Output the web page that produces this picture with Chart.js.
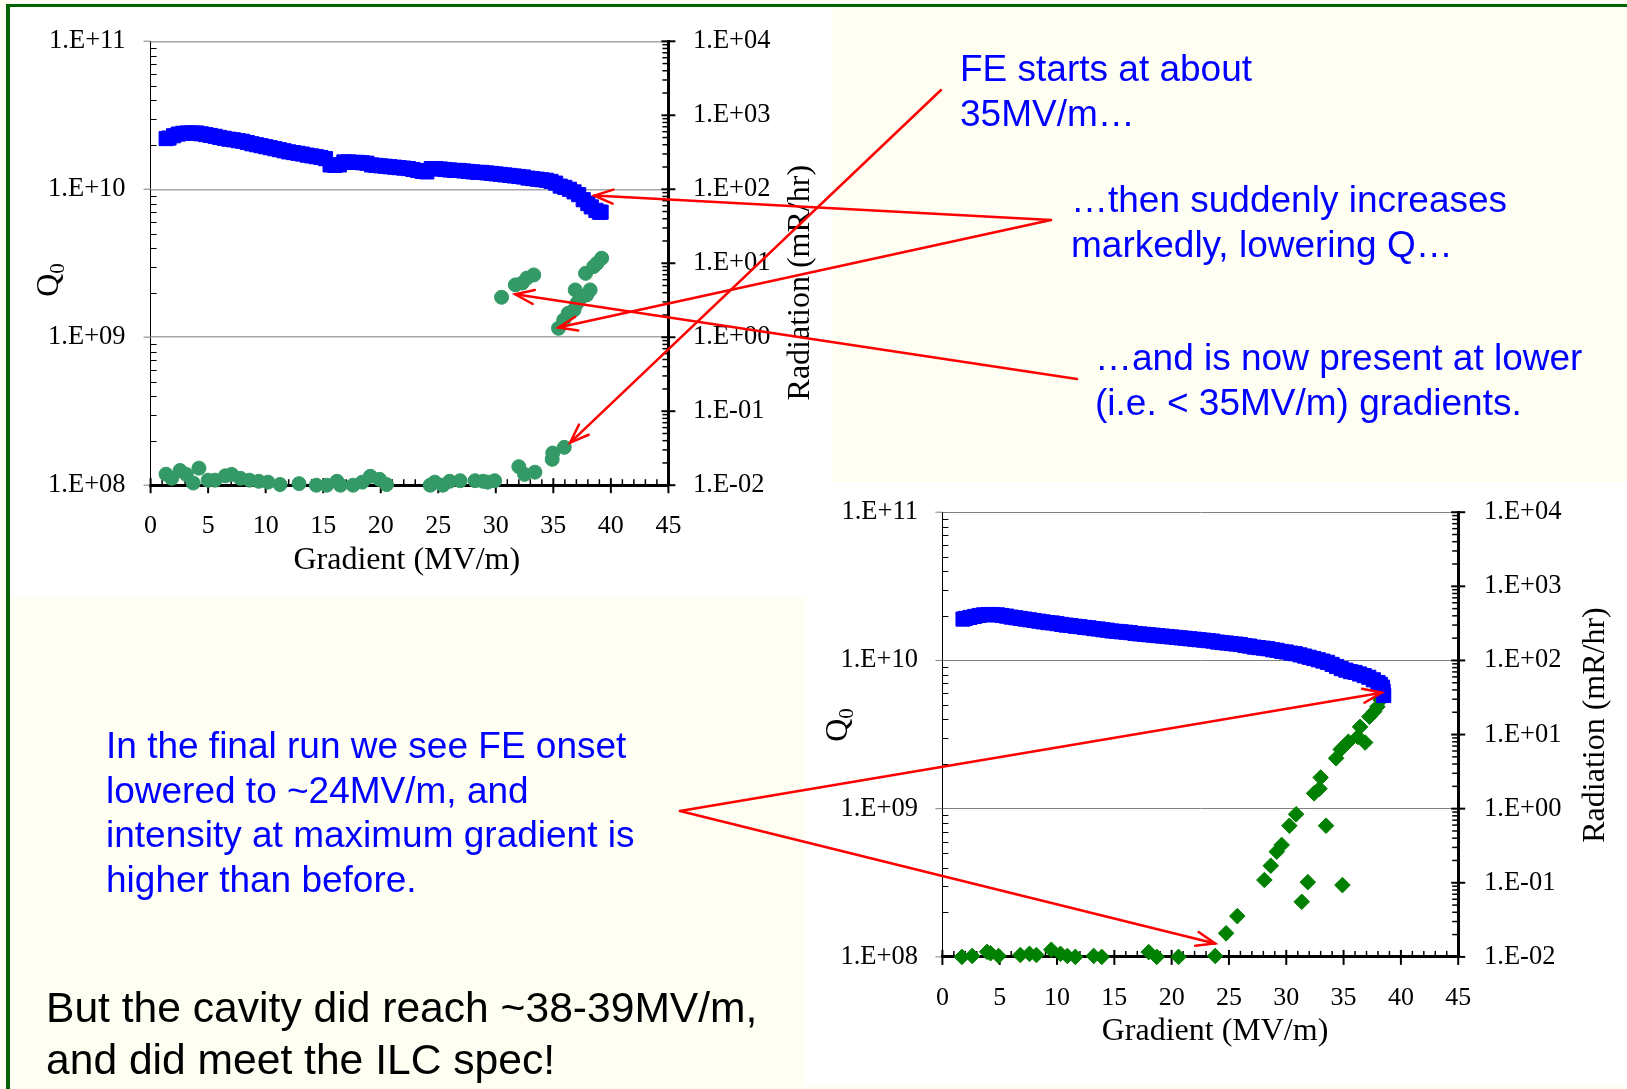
<!DOCTYPE html>
<html>
<head>
<meta charset="utf-8">
<script src="https://cdn.jsdelivr.net/npm/chart.js@4.4.1/dist/chart.umd.min.js"></script>
<style>
html, body { margin: 0; padding: 0; }
body { width: 1627px; height: 1089px; background: #fefef2; position: relative; overflow: hidden; font-family: "Liberation Sans", Arial, sans-serif; }
#frameTop { position: absolute; left: 6px; top: 4px; width: 1621px; height: 3px; background: #006400; }
#frameLeft { position: absolute; left: 6px; top: 4px; width: 4px; height: 1085px; background: #006400; }
.box { position: absolute; background: #fff; }
.box canvas { display: block; }
#overlay { position: absolute; left: 0; top: 0; pointer-events: none; }
.note { position: absolute; color: #0000ff; font-size: 37px; line-height: 44.5px; white-space: nowrap; }
.closing { position: absolute; color: #000; font-size: 42.6px; line-height: 51.5px; white-space: nowrap; }
</style>
</head>
<body>
<div id="frameTop"></div>
<div id="frameLeft"></div>
<div class="box" style="left:10px; top:8px; width:822px; height:589px;"><canvas id="firstChart" width="822" height="589"></canvas></div>
<div class="box" style="left:805px; top:482px; width:822px; height:603px;"><canvas id="finalChart" width="822" height="603"></canvas></div>
<canvas id="overlay" width="1627" height="1089"></canvas>

<div class="note" style="left:960px; top:47px;">FE starts at about<br>35MV/m…</div>
<div class="note" style="left:1071px; top:178px;">…then suddenly increases<br>markedly, lowering Q…</div>
<div class="note" style="left:1095px; top:336px;">…and is now present at lower<br>(i.e. &lt; 35MV/m) gradients.</div>
<div class="note" style="left:106px; top:724px;">In the final run we see FE onset<br>lowered to ~24MV/m, and<br>intensity at maximum gradient is<br>higher than before.</div>
<div class="closing" style="left:46px; top:982px;">But the cavity did reach ~38-39MV/m,<br>and did meet the ILC spec!</div>

<script>
// axis ticks, same on both charts
var gradTicks = [0, 5, 10, 15, 20, 25, 30, 35, 40, 45];
var q0Ticks = [1e8, 1e9, 1e10, 1e11];
var q0TickLabels = ["1.E+08", "1.E+09", "1.E+10", "1.E+11"];
var radTicks = [1e-2, 1e-1, 1e0, 1e1, 1e2, 1e3, 1e4];
var radTickLabels = ["1.E-02", "1.E-01", "1.E+00", "1.E+01", "1.E+02", "1.E+03", "1.E+04"];

// first run: [gradient (MV/m), Q0]
var firstQ0 = [
    [1.35, 2.20e10], [1.6, 2.22e10], [2.0, 2.30e10], [2.4, 2.36e10], [2.8, 2.39e10], [3.2, 2.40e10],
    [3.6, 2.40e10], [4.0, 2.40e10], [4.4, 2.37e10], [4.8, 2.34e10], [5.2, 2.31e10], [5.6, 2.28e10],
    [6.0, 2.24e10], [6.4, 2.21e10], [6.8, 2.18e10], [7.2, 2.16e10], [7.6, 2.13e10], [8.0, 2.11e10],
    [8.4, 2.07e10], [8.8, 2.03e10], [9.2, 2.00e10], [9.6, 1.97e10], [10.0, 1.94e10], [10.4, 1.91e10],
    [10.8, 1.88e10], [11.2, 1.85e10], [11.6, 1.82e10], [12.0, 1.79e10], [12.4, 1.77e10], [12.8, 1.75e10],
    [13.2, 1.73e10], [13.6, 1.70e10], [14.0, 1.68e10], [14.4, 1.66e10], [14.8, 1.64e10], [15.2, 1.61e10],
    [15.6, 1.46e10], [16.0, 1.45e10], [16.4, 1.46e10], [16.8, 1.53e10], [17.2, 1.53e10], [17.6, 1.52e10],
    [18.0, 1.52e10], [18.4, 1.51e10], [18.8, 1.50e10], [19.2, 1.46e10], [19.6, 1.45e10], [20.0, 1.44e10],
    [20.4, 1.43e10], [20.8, 1.42e10], [21.2, 1.41e10], [21.6, 1.40e10], [22.0, 1.39e10], [22.4, 1.38e10],
    [22.8, 1.36e10], [23.2, 1.34e10], [23.6, 1.32e10], [24.0, 1.31e10], [24.4, 1.38e10], [24.8, 1.38e10],
    [25.2, 1.37e10], [25.6, 1.36e10], [26.0, 1.35e10], [26.4, 1.34e10], [26.8, 1.34e10], [27.2, 1.33e10],
    [27.6, 1.32e10], [28.0, 1.31e10], [28.4, 1.30e10], [28.8, 1.30e10], [29.2, 1.29e10], [29.6, 1.28e10],
    [30.0, 1.27e10], [30.4, 1.26e10], [30.8, 1.25e10], [31.2, 1.24e10], [31.6, 1.23e10], [32.0, 1.22e10],
    [32.4, 1.21e10], [32.8, 1.19e10], [33.2, 1.18e10], [33.6, 1.17e10], [34.0, 1.16e10], [34.4, 1.15e10],
    [34.8, 1.13e10], [35.2, 1.10e10], [35.6, 1.05e10], [36.0, 1.03e10], [36.4, 1.00e10], [36.8, 9.6e9],
    [37.2, 9.2e9], [37.6, 8.5e9], [38.0, 8.0e9], [38.3, 7.6e9], [38.7, 7.2e9], [39.0, 7.0e9], [39.15, 7.0e9]
];

// first run: [gradient (MV/m), radiation (mR/hr)]
var firstRad = [
    [1.34, 0.0141], [1.83, 0.0124], [2.56, 0.0158], [3.1, 0.0140], [3.7, 0.0107], [4.2, 0.0170],
    [5.0, 0.0117], [5.6, 0.0117], [6.5, 0.0134], [7.05, 0.0140], [7.8, 0.0124], [8.6, 0.0117],
    [9.4, 0.0113], [10.2, 0.0110], [11.25, 0.0102], [12.9, 0.0105], [14.4, 0.0100], [15.3, 0.0100],
    [16.2, 0.0113], [16.5, 0.0100], [17.6, 0.0100], [18.4, 0.0110], [19.1, 0.0132], [19.9, 0.0120],
    [20.5, 0.0102], [24.3, 0.0100], [24.7, 0.0110], [25.4, 0.0100], [26.0, 0.0113], [26.9, 0.0115],
    [28.2, 0.0115], [28.9, 0.0113], [29.3, 0.0110], [29.9, 0.0115],
    [32.0, 0.0178], [32.5, 0.0140], [33.4, 0.0150], [34.9, 0.0224], [34.95, 0.0272], [35.95, 0.0325],
    [30.5, 3.47], [31.7, 5.1], [32.3, 5.4], [32.7, 6.3], [33.3, 6.95],
    [35.45, 1.32], [35.9, 1.71], [36.3, 2.11], [36.8, 2.34], [37.05, 2.88], [36.9, 4.36], [37.35, 3.37],
    [37.9, 3.73], [38.2, 4.36], [37.8, 7.3], [38.5, 9.0], [38.8, 10.0], [39.2, 11.7]
];

// final run: [gradient (MV/m), Q0]
var finalQ0 = [
    [1.8, 1.90e10], [2.0, 1.92e10], [2.4, 1.95e10], [2.8, 1.98e10], [3.2, 2.01e10], [3.6, 2.03e10],
    [4.0, 2.04e10], [4.4, 2.04e10], [4.8, 2.03e10], [5.2, 2.01e10], [5.6, 1.99e10], [6.0, 1.96e10],
    [6.4, 1.94e10], [6.8, 1.92e10], [7.2, 1.90e10], [7.6, 1.88e10], [8.0, 1.86e10], [8.4, 1.84e10],
    [8.8, 1.82e10], [9.2, 1.80e10], [9.6, 1.79e10], [10.0, 1.77e10], [10.4, 1.75e10], [10.8, 1.73e10],
    [11.2, 1.72e10], [11.6, 1.70e10], [12.0, 1.69e10], [12.4, 1.67e10], [12.8, 1.66e10], [13.2, 1.64e10],
    [13.6, 1.63e10], [14.0, 1.61e10], [14.4, 1.60e10], [14.8, 1.58e10], [15.2, 1.57e10], [15.6, 1.56e10],
    [16.0, 1.55e10], [16.4, 1.54e10], [16.8, 1.52e10], [17.2, 1.51e10], [17.6, 1.50e10], [18.0, 1.49e10],
    [18.4, 1.48e10], [18.8, 1.47e10], [19.2, 1.46e10], [19.6, 1.45e10], [20.0, 1.44e10], [20.4, 1.43e10],
    [20.8, 1.42e10], [21.2, 1.41e10], [21.6, 1.40e10], [22.0, 1.39e10], [22.4, 1.38e10], [22.8, 1.37e10],
    [23.2, 1.36e10], [23.6, 1.35e10], [24.0, 1.33e10], [24.4, 1.32e10], [24.8, 1.31e10], [25.2, 1.30e10],
    [25.6, 1.29e10], [26.0, 1.28e10], [26.4, 1.26e10], [26.8, 1.25e10], [27.2, 1.23e10], [27.6, 1.22e10],
    [28.0, 1.21e10], [28.4, 1.20e10], [28.8, 1.18e10], [29.2, 1.17e10], [29.6, 1.15e10], [30.0, 1.14e10],
    [30.4, 1.12e10], [30.8, 1.11e10], [31.2, 1.09e10], [31.6, 1.07e10], [32.0, 1.05e10], [32.4, 1.03e10],
    [32.8, 1.01e10], [33.2, 9.9e9], [33.6, 9.7e9], [34.0, 9.4e9], [34.4, 9.1e9], [34.8, 8.8e9],
    [35.2, 8.6e9], [35.6, 8.4e9], [36.0, 8.3e9], [36.4, 8.1e9], [36.8, 7.9e9], [37.2, 7.7e9],
    [37.6, 7.4e9], [38.0, 7.1e9], [38.2, 6.9e9], [38.4, 6.6e9], [38.45, 6.2e9], [38.5, 5.8e9]
];

// final run: [gradient (MV/m), radiation (mR/hr)]
var finalRad = [
    [1.7, 0.0100], [2.6, 0.0103], [3.9, 0.0117], [4.2, 0.0112], [4.9, 0.0103], [6.8, 0.0106],
    [7.6, 0.0110], [8.2, 0.0106], [9.5, 0.0125], [10.3, 0.0110], [10.9, 0.0103], [11.6, 0.0100],
    [13.2, 0.0103], [13.9, 0.0100], [18.0, 0.0116], [18.7, 0.0100], [20.6, 0.0100], [23.8, 0.0103],
    [24.75, 0.0208], [25.73, 0.0355], [28.09, 0.109], [28.65, 0.17], [29.17, 0.263], [29.6, 0.324],
    [30.27, 0.589], [30.86, 0.84], [31.35, 0.0554], [31.88, 0.102], [32.43, 1.61], [32.9, 1.86],
    [33.0, 2.63], [33.47, 0.589], [34.35, 4.79], [34.75, 6.3], [34.9, 0.093], [35.42, 8.0],
    [36.24, 9.3], [36.44, 12.7], [36.88, 7.8], [37.25, 17.4], [37.67, 20.4], [37.95, 23.7], [38.24, 29.2]
];

var serif = '"Liberation Serif", "Times New Roman", serif';
var yTickFont = {family: serif, size: 26.5};
var xTickFont = {family: serif, size: 26};

function logMinors(scale) {
    var out = [];
    var lo = Math.round(Math.log10(scale.min));
    var hi = Math.round(Math.log10(scale.max));
    for (var e = lo; e < hi; e++) {
        for (var m = 2; m <= 9; m++) {
            out.push(m * Math.pow(10, e));
        }
    }
    return out;
}

function seg(ctx, x1, y1, x2, y2) {
    ctx.beginPath();
    ctx.moveTo(x1, y1);
    ctx.lineTo(x2, y2);
    ctx.stroke();
}

// fixed axis size, and no extra room for edge labels
function fixSize(width, height) {
    return function (axis) {
        if (width !== null) axis.width = width;
        if (height !== null) axis.height = height;
        axis.paddingTop = 0;
        axis.paddingBottom = 0;
        axis.paddingLeft = 0;
        axis.paddingRight = 0;
    };
}

// Excel-like tick marks and axis titles
var slideAxes = {
    id: "slideAxes",
    beforeDatasetsDraw: function (chart, args, opts) {
        var ctx = chart.ctx;
        var a = chart.chartArea;
        var xs = chart.scales.x, yl = chart.scales.y, yr = chart.scales.y2;
        ctx.save();

        // left axis: minor ticks inside, gridline stubs outside
        ctx.strokeStyle = "#000";
        ctx.lineWidth = 1;
        logMinors(yl).forEach(function (v) {
            var p = Math.round(yl.getPixelForValue(v)) + 0.5;
            seg(ctx, a.left, p, a.left + 6, p);
        });
        ctx.strokeStyle = opts.gridColor;
        ctx.lineWidth = opts.gridWidth;
        q0Ticks.forEach(function (v) {
            var p = yl.getPixelForValue(v);
            seg(ctx, a.left - 7, p, a.left, p);
        });

        // right axis
        ctx.strokeStyle = "#000";
        ctx.lineWidth = 1.5;
        logMinors(yr).forEach(function (v) {
            var p = yr.getPixelForValue(v);
            seg(ctx, a.right - 6, p, a.right, p);
        });
        ctx.lineWidth = 2;
        radTicks.forEach(function (v) {
            var p = yr.getPixelForValue(v);
            seg(ctx, a.right - 7, p, a.right + 7, p);
        });

        // x axis: minor every 1 MV/m, major crossing
        for (var g = xs.min; g <= xs.max; g++) {
            var px = xs.getPixelForValue(g);
            if (g % 5 === 0) {
                ctx.lineWidth = 2;
                seg(ctx, px, a.bottom - 7, px, a.bottom + 8);
            } else {
                ctx.lineWidth = 1.5;
                seg(ctx, px, a.bottom - 6, px, a.bottom);
            }
        }
        ctx.restore();
    },
    afterDraw: function (chart, args, opts) {
        var ctx = chart.ctx;
        ctx.save();
        ctx.fillStyle = "#000";
        ctx.textBaseline = "middle";

        // Q0, reading upward, with subscript
        ctx.save();
        ctx.translate(opts.qTitle[0], opts.qTitle[1]);
        ctx.rotate(-Math.PI / 2);
        ctx.font = "32px " + serif;
        var wQ = ctx.measureText("Q").width;
        ctx.font = "21px " + serif;
        var wS = ctx.measureText("0").width;
        var start = -(wQ + wS) / 2;
        ctx.textAlign = "left";
        ctx.font = "32px " + serif;
        ctx.fillText("Q", start, 0);
        ctx.font = "21px " + serif;
        ctx.fillText("0", start + wQ, 8);
        ctx.restore();

        // radiation title also reads upward
        ctx.save();
        ctx.translate(opts.radTitle[0], opts.radTitle[1]);
        ctx.rotate(-Math.PI / 2);
        ctx.font = "32px " + serif;
        ctx.textAlign = "center";
        ctx.fillText("Radiation (mR/hr)", 0, 0);
        ctx.restore();

        ctx.font = "32px " + serif;
        ctx.textAlign = "center";
        ctx.fillText("Gradient (MV/m)", opts.gradTitle[0], opts.gradTitle[1]);
        ctx.restore();
    }
};

function toPoints(list) {
    return list.map(function (p) { return {x: p[0], y: p[1]}; });
}

function buildChart(canvasID, q0Data, radData, look) {
    var chartCanvasObject = document.getElementById(canvasID);
    return new Chart(chartCanvasObject, {
        type: "scatter",
        data: {
            datasets: [{
                label: "Q0",
                data: toPoints(q0Data),
                yAxisID: "y",
                pointStyle: "rect",
                pointRadius: 10,
                backgroundColor: "#0000ff",
                borderColor: "#0000ff",
                borderWidth: 1,
                clip: false
            }, {
                label: "Radiation",
                data: toPoints(radData),
                yAxisID: "y2",
                pointStyle: look.radStyle,
                pointRadius: look.radRadius,
                backgroundColor: look.radColor,
                borderColor: look.radColor,
                borderWidth: 1,
                clip: false
            }]
        },
        options: {
            responsive: false,
            animation: false,
            events: [],
            layout: {padding: look.padding},
            plugins: {
                legend: {display: false},
                tooltip: {enabled: false},
                slideAxes: {
                    gridColor: look.gridColor,
                    gridWidth: look.gridWidth,
                    qTitle: look.qTitle,
                    radTitle: look.radTitle,
                    gradTitle: look.gradTitle
                }
            },
            scales: {
                x: {
                    type: "linear",
                    position: "bottom",
                    min: 0,
                    max: 45,
                    afterBuildTicks: function (axis) {
                        axis.ticks = gradTicks.map(function (v) { return {value: v}; });
                    },
                    afterFit: fixSize(null, 100),
                    ticks: {padding: look.xPad, autoSkip: false, maxRotation: 0, color: "#000", font: xTickFont},
                    grid: {drawOnChartArea: false, drawTicks: false},
                    border: {color: "#000", width: 3}
                },
                y: {
                    type: "logarithmic",
                    position: "left",
                    min: 1e8,
                    max: 1e11,
                    afterBuildTicks: function (axis) {
                        axis.ticks = q0Ticks.map(function (v) { return {value: v}; });
                    },
                    afterFit: fixSize(look.leftWidth, null),
                    ticks: {
                        padding: look.leftPad, autoSkip: false, color: "#000", font: yTickFont,
                        callback: function (v, i) { return q0TickLabels[i]; }
                    },
                    grid: {color: look.gridColor, lineWidth: look.gridWidth, drawTicks: false},
                    border: {color: "#000", width: 1}
                },
                y2: {
                    type: "logarithmic",
                    position: "right",
                    min: 1e-2,
                    max: 1e4,
                    afterBuildTicks: function (axis) {
                        axis.ticks = radTicks.map(function (v) { return {value: v}; });
                    },
                    afterFit: fixSize(look.rightWidth, null),
                    ticks: {
                        padding: look.rightPad, autoSkip: false, color: "#000", font: yTickFont,
                        callback: function (v, i) { return radTickLabels[i]; }
                    },
                    grid: {drawOnChartArea: false, drawTicks: false},
                    border: {color: "#000", width: 3}
                }
            }
        },
        plugins: [slideAxes]
    });
}

var firstChart = buildChart("firstChart", firstQ0, firstRad, {
    radStyle: "circle", radRadius: 7, radColor: "#339966",
    padding: {left: 0, right: 0, top: 33.3, bottom: 11.8},
    leftWidth: 140.6, rightWidth: 163.6,
    xPad: 25.8, leftPad: 25, rightPad: 24.6,
    gridColor: "#a6a6a6", gridWidth: 1.5,
    qTitle: [40, 272], radTitle: [791, 274.7], gradTitle: [396.8, 553]
});

var finalChart = buildChart("finalChart", finalQ0, finalRad, {
    radStyle: "rectRot", radRadius: 7.8, radColor: "#008000",
    padding: {left: 0, right: 0, top: 30.2, bottom: 28.1},
    leftWidth: 137.4, rightWidth: 168.8,
    xPad: 26.1, leftPad: 24.4, rightPad: 25.8,
    gridColor: "#808080", gridWidth: 1,
    qTitle: [34, 243], radTitle: [791, 243], gradTitle: [410, 550]
});

// red call-out arrows: tail at the text, tip on a plotted value
var arrows = [
    {chart: firstChart, box: [10, 8], axis: "y2", gradient: 36.47, value: 0.0377, tail: [941, 90]},
    {chart: firstChart, box: [10, 8], axis: "y", gradient: 38.56, value: 9.06e9, tail: [1051, 220]},
    {chart: firstChart, box: [10, 8], axis: "y2", gradient: 35.45, value: 1.35, tail: [1051, 220]},
    {chart: firstChart, box: [10, 8], axis: "y2", gradient: 31.69, value: 3.81, tail: [1077, 379]},
    {chart: finalChart, box: [805, 482], axis: "y", gradient: 38.33, value: 6.06e9, tail: [680, 811]},
    {chart: finalChart, box: [805, 482], axis: "y2", gradient: 23.79, value: 0.0152, tail: [680, 811]}
];

var octx = document.getElementById("overlay").getContext("2d");
octx.strokeStyle = "#ff0000";
octx.lineWidth = 2.5;
octx.lineCap = "round";
octx.lineJoin = "miter";
arrows.forEach(function (ar) {
    var tx = ar.box[0] + ar.chart.scales.x.getPixelForValue(ar.gradient);
    var ty = ar.box[1] + ar.chart.scales[ar.axis].getPixelForValue(ar.value);
    var x0 = ar.tail[0], y0 = ar.tail[1];
    seg(octx, x0, y0, tx, ty);
    var ang = Math.atan2(ty - y0, tx - x0);
    var len = 20, half = 0.36;
    octx.beginPath();
    octx.moveTo(tx - len * Math.cos(ang - half), ty - len * Math.sin(ang - half));
    octx.lineTo(tx, ty);
    octx.lineTo(tx - len * Math.cos(ang + half), ty - len * Math.sin(ang + half));
    octx.stroke();
});
</script>
</body>
</html>
